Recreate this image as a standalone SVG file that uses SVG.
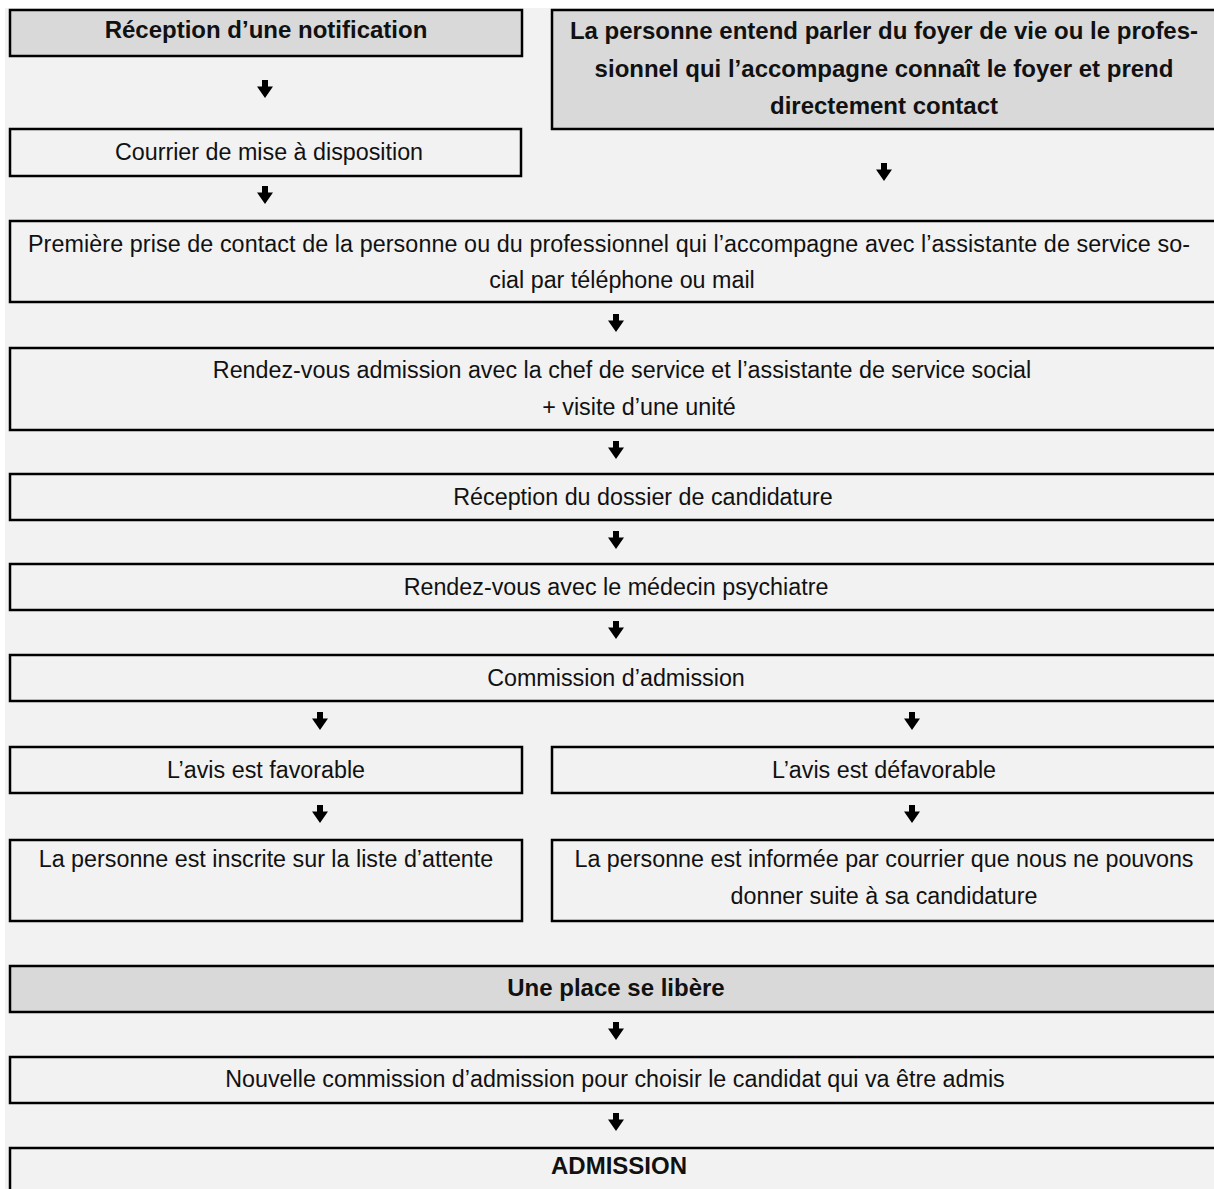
<svg xmlns="http://www.w3.org/2000/svg" xmlns:xlink="http://www.w3.org/1999/xlink" width="1214" height="1189" viewBox="0 0 1214 1189">
<style>
.box{fill:#f2f2f2;stroke:#000;stroke-width:2.5}
.hd{fill:#d9d9d9;stroke:#000;stroke-width:2.5}
text{font-family:"Liberation Sans",Arial,sans-serif;font-size:23.3px;fill:#111;text-anchor:middle}
.b{font-weight:bold;font-size:24px}
.arr{fill:#000}
</style>
<defs>
<path id="arr" d="M-3,-9 h6 v6.5 h5 l-8,11.5 l-8,-11.5 h5 z"/>
</defs>
<rect x="0" y="0" width="1214" height="1189" fill="#ffffff"/>
<rect x="5" y="8" width="1209" height="1181" fill="#f2f2f2"/>

<g id="n-reception-notification"><rect class="hd" x="10" y="10" width="512" height="46"/><text class="b" x="266" y="38">Réception d’une notification</text></g>
<g id="n-entend-parler"><rect class="hd" x="552" y="10" width="664" height="119"/>
<text class="b" x="884" y="39">La personne entend parler du foyer de vie ou le profes-</text>
<text class="b" x="884" y="77">sionnel qui l’accompagne connaît le foyer et prend</text>
<text class="b" x="884" y="114">directement contact</text></g>
<g id="n-courrier"><rect class="box" x="10" y="129" width="511" height="47"/><text x="269" y="160">Courrier de mise à disposition</text></g>
<g id="n-premiere"><rect class="box" x="10" y="221" width="1212" height="81"/>
<text x="609" y="252" textLength="1162" lengthAdjust="spacing">Première prise de contact de la personne ou du professionnel qui l’accompagne avec l’assistante de service so-</text>
<text x="622" y="288">cial par téléphone ou mail</text></g>
<g id="n-rdv-admission"><rect class="box" x="10" y="348" width="1212" height="82"/>
<text x="622" y="378">Rendez-vous admission avec la chef de service et l’assistante de service social</text>
<text x="639" y="415">+ visite d’une unité</text></g>
<g id="n-dossier"><rect class="box" x="10" y="474" width="1212" height="46"/><text x="643" y="505">Réception du dossier de candidature</text></g>
<g id="n-medecin"><rect class="box" x="10" y="564" width="1212" height="46"/><text x="616" y="595">Rendez-vous avec le médecin psychiatre</text></g>
<g id="n-commission"><rect class="box" x="10" y="655" width="1212" height="46"/><text x="616" y="686">Commission d’admission</text></g>
<g id="n-favorable"><rect class="box" x="10" y="747" width="512" height="46"/><text x="266" y="778">L’avis est favorable</text></g>
<g id="n-defavorable"><rect class="box" x="552" y="747" width="664" height="46"/><text x="884" y="778">L’avis est défavorable</text></g>
<g id="n-liste"><rect class="box" x="10" y="840" width="512" height="81"/><text x="266" y="867">La personne est inscrite sur la liste d’attente</text></g>
<g id="n-informee"><rect class="box" x="552" y="840" width="664" height="81"/>
<text x="884" y="867">La personne est informée par courrier que nous ne pouvons</text>
<text x="884" y="904">donner suite à sa candidature</text></g>
<g id="n-place"><rect class="hd" x="10" y="966" width="1212" height="46"/><text class="b" x="616" y="996">Une place se libère</text></g>
<g id="n-nouvelle"><rect class="box" x="10" y="1057" width="1212" height="46"/><text x="615" y="1087">Nouvelle commission d’admission pour choisir le candidat qui va être admis</text></g>
<g id="n-admission"><rect class="box" x="10" y="1148" width="1212" height="60"/><text class="b" x="619" y="1174">ADMISSION</text></g>

<g id="connectors" class="arr">
<use xlink:href="#arr" x="265" y="89"/>
<use xlink:href="#arr" x="265" y="195"/>
<use xlink:href="#arr" x="884" y="172"/>
<use xlink:href="#arr" x="616" y="323"/>
<use xlink:href="#arr" x="616" y="450"/>
<use xlink:href="#arr" x="616" y="540"/>
<use xlink:href="#arr" x="616" y="630"/>
<use xlink:href="#arr" x="320" y="721"/>
<use xlink:href="#arr" x="912" y="721"/>
<use xlink:href="#arr" x="320" y="814"/>
<use xlink:href="#arr" x="912" y="814"/>
<use xlink:href="#arr" x="616" y="1031"/>
<use xlink:href="#arr" x="616" y="1122"/>
</g>
</svg>
